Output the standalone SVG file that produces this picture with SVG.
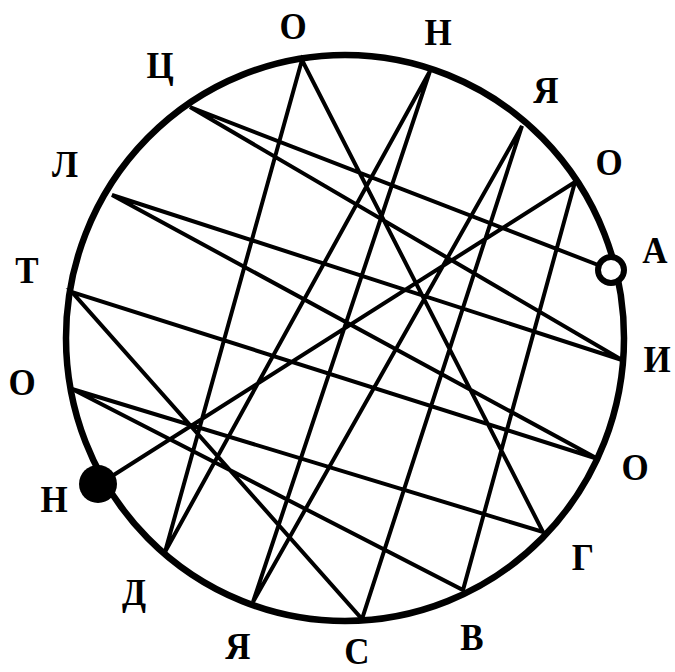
<svg xmlns="http://www.w3.org/2000/svg" width="675" height="672" viewBox="0 0 675 672">
<style>
.lbl{font-family:"Liberation Serif","Times New Roman",serif;font-weight:bold;font-size:35px;fill:#000;text-anchor:middle}
.ch{stroke:#000;stroke-width:4;stroke-linecap:round;fill:none}
</style>
<rect width="675" height="672" fill="#fff"/>
<g id="circle"><ellipse cx="345" cy="338" rx="279" ry="283" fill="none" stroke="#000" stroke-width="6.5"/></g>
<g id="connectors">
<polyline class="ch" points="98,485 575,182 463,590 72,389 543,532 302,60 165,552 430,71 253,602 522,126 362,619 72,292 598,459 112,195 622,360 190,107 611,270"/>
</g>
<g id="start"><circle cx="98" cy="484" r="19" fill="#000"/></g>
<g id="end"><circle cx="611" cy="270" r="13" fill="#fff" stroke="#000" stroke-width="6"/></g>
<g id="labels">
<g id="l1"><text class="lbl" transform="translate(293,39) scale(1,1.1)">О</text></g>
<g id="l2"><text class="lbl" transform="translate(438,45) scale(1,1.1)">Н</text></g>
<g id="l3"><text class="lbl" transform="translate(160,78) scale(1,1.1)">Ц</text></g>
<g id="l4"><text class="lbl" transform="translate(546,103) scale(1,1.1)">Я</text></g>
<g id="l5"><text class="lbl" transform="translate(65,177) scale(1,1.1)">Л</text></g>
<g id="l6"><text class="lbl" transform="translate(609,175) scale(1,1.1)">О</text></g>
<g id="l7"><text class="lbl" transform="translate(655,263) scale(1,1.1)">А</text></g>
<g id="l8"><text class="lbl" transform="translate(27,283) scale(1,1.1)">Т</text></g>
<g id="l9"><text class="lbl" transform="translate(657,372) scale(1,1.1)">И</text></g>
<g id="l10"><text class="lbl" transform="translate(22,395) scale(1,1.1)">О</text></g>
<g id="l11"><text class="lbl" transform="translate(635,480) scale(1,1.1)">О</text></g>
<g id="l12"><text class="lbl" transform="translate(54,512) scale(1,1.1)">Н</text></g>
<g id="l13"><text class="lbl" transform="translate(583,570) scale(1,1.1)">Г</text></g>
<g id="l14"><text class="lbl" transform="translate(134,605) scale(1,1.1)">Д</text></g>
<g id="l15"><text class="lbl" transform="translate(472,650) scale(1,1.1)">В</text></g>
<g id="l16"><text class="lbl" transform="translate(238,659) scale(1,1.1)">Я</text></g>
<g id="l17"><text class="lbl" transform="translate(357,664) scale(1,1.1)">С</text></g>
</g>
</svg>
